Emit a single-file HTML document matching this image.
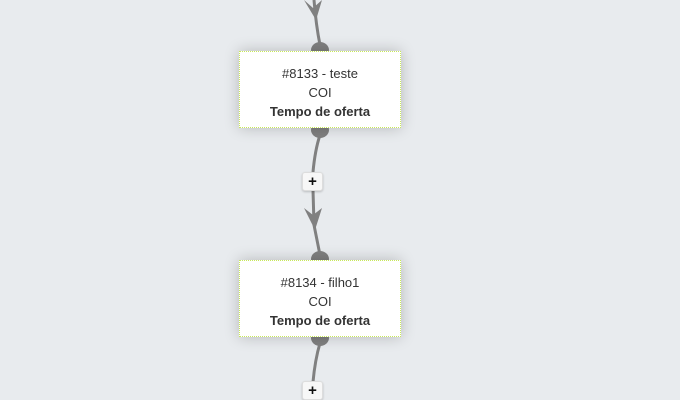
<!DOCTYPE html>
<html><head><style>
html,body{margin:0;padding:0;}
body{width:680px;height:400px;background:#e8ebee;position:relative;overflow:hidden;font-family:"Liberation Sans",sans-serif;}
svg{position:absolute;left:0;top:0;}
.box{position:absolute;left:239px;width:162px;height:77px;background:#fff;border:1px dotted #c8e85a;box-shadow:0 0 14px rgba(0,0,0,0.22);text-align:center;color:#333;font-size:13px;line-height:19px;box-sizing:border-box;padding-top:12px;}
.box b{font-weight:bold;}
.plus{position:absolute;width:21px;height:19px;background:#f7f7f7;border:1px solid #ddd;border-radius:3px;box-sizing:border-box;box-shadow:0 1px 2px rgba(0,0,0,0.2);text-align:center;font-weight:bold;font-size:15px;line-height:17px;color:#111;}
</style></head><body>
<svg width="680" height="400">
<g stroke="#808080" stroke-width="3" fill="none">
<path d="M314 0 Q316 25 320 45"/>
<path d="M320 135 Q315 150 313 172"/>
<path d="M313 190 L314 225 Q317 240 320 255"/>
<path d="M320 343 Q315 360 313 382"/>
</g>
<g fill="#808080">
<path d="M304 0 L313 8 L322 0 L316 20 Z"/>
<path d="M304 208 L313 215 L322 208 L315 230 Z"/>
<ellipse cx="320" cy="50" rx="9" ry="8"/>
<ellipse cx="320" cy="130" rx="9" ry="8"/>
<ellipse cx="320" cy="259" rx="9" ry="8"/>
<ellipse cx="320" cy="338" rx="9" ry="8"/>
</g>
</svg>
<div class="box" style="top:51px;">#8133 - teste<br>COI<br><b>Tempo de oferta</b></div>
<div class="box" style="top:260px;">#8134 - filho1<br>COI<br><b>Tempo de oferta</b></div>
<div class="plus" style="left:302px;top:172px;">+</div>
<div class="plus" style="left:302px;top:381px;">+</div>
</body></html>
